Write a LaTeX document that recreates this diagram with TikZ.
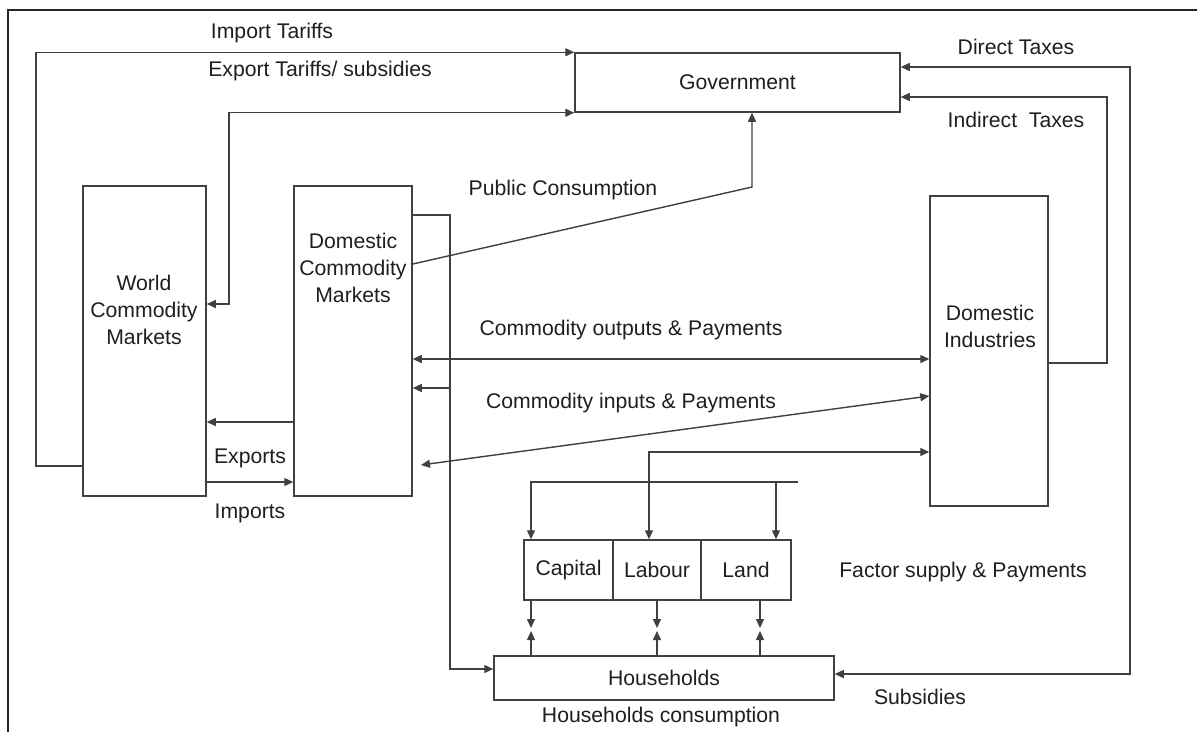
\documentclass[tikz,border=0pt]{standalone}
\usepackage{fontspec}
\setmainfont{Liberation Sans}
\usetikzlibrary{arrows.meta,calc}
\definecolor{linec}{gray}{0.25}
\definecolor{textc}{gray}{0.12}
\begin{document}
\begin{tikzpicture}[x=1pt,y=-1pt,
  every node/.style={font=\fontsize{21.2}{27}\selectfont, text=textc},
  box/.style={draw=linec, line width=1.5pt, inner sep=0pt},
  conn/.style={draw=linec, line width=1.4pt},
  tip/.style={conn, -{Triangle[length=9pt,width=8pt]}},
  tips/.style={conn, {Triangle[length=9pt,width=8pt]}-{Triangle[length=9pt,width=8pt]}},
  lbl/.style={inner sep=0pt, align=center}]
\useasboundingbox (0,0) rectangle (1197,732);
\fill[white] (0,0) rectangle (1197,732);
% frame
\draw[black!85, line width=1.5pt] (8,732) -- (8,10) -- (1197,10);

% boxes
\node[box, minimum width=325pt, minimum height=59pt] (gov) at (737.5,82.5) {Government};
\node[box, minimum width=123pt, minimum height=310pt] (wcm) at (144.5,341) {};
\node[box, minimum width=118pt, minimum height=310pt] (dcm) at (353,341) {};
\node[box, minimum width=118pt, minimum height=310pt] (di) at (989,351) {};
\node[box, minimum width=89pt, minimum height=60pt] (cap) at (568.5,570) {Capital};
\node[box, minimum width=88pt, minimum height=60pt] (lab) at (657,570) {Labour};
\node[box, minimum width=90pt, minimum height=60pt] (land) at (746,570) {Land};
\node[box, minimum width=340pt, minimum height=44pt] (hh) at (664,678) {Households};

% box texts
\node[lbl] (wcmt) at (144,310) {World\\Commodity\\Markets};
\node[lbl] (dcmt) at (353,268) {Domestic\\Commodity\\Markets};
\node[lbl] (dit) at (990,326) {Domestic\\Industries};

% connectors
\draw[tip] (wcm.west |- 0,466) -- (36,466) |- (gov.north west);
\draw[tips] (gov.south west) -| (229,304) -- (wcm.east |- 0,304);
\draw[tip] (dcm.west |- 0,422) -- (wcm.east |- 0,422);
\draw[tip] (wcm.east |- 0,482) -- (dcm.west |- 0,482);
\draw[tip] (dcm.east |- 0,264) -- (752,187) -- (752,0 |- gov.south);
\draw[tip] (dcm.east |- 0,215) -| (450,669) -- (hh.west |- 0,669);
\draw[tip] (450,388) -- (dcm.east |- 0,388);
\draw[tips] (dcm.east |- 0,359) -- (di.west |- 0,359);
\coordinate (inL) at (421,465);
\draw[tips] (inL) -- (di.west |- 0,396);
\draw[tips] (di.west |- 0,452) -| (649,0 |- lab.north);
\coordinate (tEnd) at (798,482);
\draw[tip] (tEnd) -| (531,0 |- cap.north);
\draw[tip] (776,482) -- (776,0 |- land.north);
\foreach \xx in {531,657,760}{
  \draw[tip] (\xx,0 |- cap.south) -- (\xx,628);
  \draw[tip] (\xx,0 |- hh.north) -- (\xx,631);
}
\draw[tips] (gov.east |- 0,67) -| (1130,674) -- (hh.east |- 0,674);
\draw[tip] (di.east |- 0,363) -| (1107,97) -- (gov.east |- 0,97);

% labels
\node[lbl] (limp) at (272,33) {Import Tariffs};
\node[lbl] (lexp) at (320,71) {Export Tariffs/ subsidies};
\node[lbl] (lpub) at (563,190) {Public Consumption};
\node[lbl] (ldir) at (1016,47) {Direct Taxes};
\node[lbl] (lind) at (1016,120) {Indirect\ \ Taxes};
\node[lbl] (lout) at (631,330) {Commodity outputs \& Payments};
\node[lbl] (lin) at (631,403) {Commodity inputs \& Payments};
\node[lbl] (lexps) at (250,458) {Exports};
\node[lbl] (limps) at (250,513) {Imports};
\node[lbl] (lfac) at (963,572) {Factor supply \& Payments};
\node[lbl] (lsub) at (920,697) {Subsidies};
\node[lbl] (lhc) at (661,717) {Households consumption};
\end{tikzpicture}
\end{document}
